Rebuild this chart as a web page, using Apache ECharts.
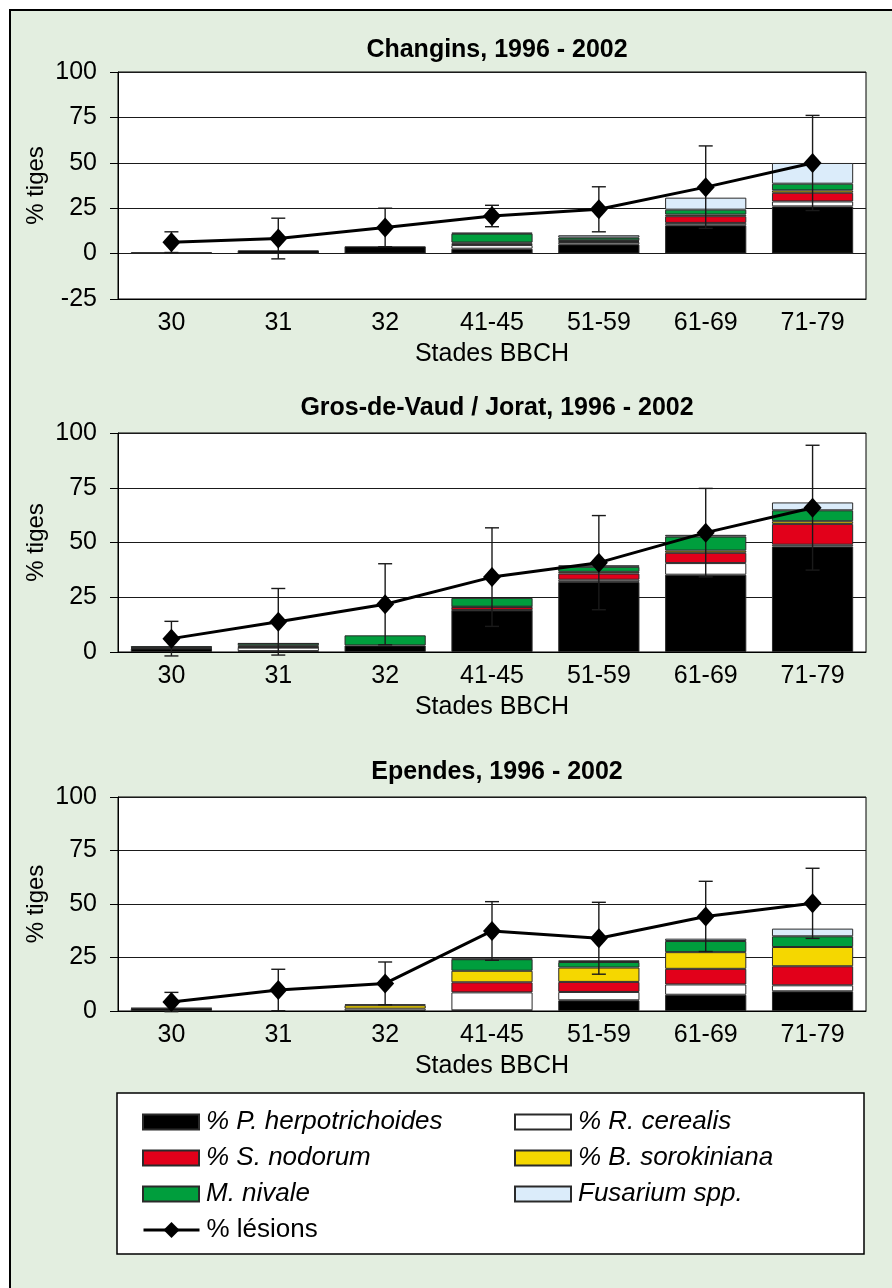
<!DOCTYPE html>
<html>
<head>
<meta charset="utf-8">
<script src="https://cdn.jsdelivr.net/npm/echarts@6/dist/echarts.min.js"></script>
<style>
html,body{margin:0;padding:0;background:#fff;}
#main{width:892px;height:1288px;}
</style>
</head>
<body>
<div id="main"></div>
<script>
// ---- Data ----
const categories = ['30', '31', '32', '41-45', '51-59', '61-69', '71-79'];
const titles = ['Changins, 1996 - 2002', 'Gros-de-Vaud / Jorat, 1996 - 2002', 'Ependes, 1996 - 2002'];
const seriesNames = ['% P. herpotrichoides', '% R. cerealis', '% S. nodorum', '% B. sorokiniana', 'M. nivale', 'Fusarium spp.'];
const lineName = '% lésions';

// Changins
const changinsHerpo = [0.8, 1.8, 4.0, 2.7, 5.1, 15.6, 26.0];
const changinsRCer  = [0, 0, 0, 2.0, 1.3, 1.3, 2.7];
const changinsSNod  = [0, 0, 0, 0.8, 0.5, 3.7, 4.8];
const changinsBSor  = [0, 0, 0, 0.6, 0.4, 0.9, 1.3];
const changinsMNiv  = [0, 0, 0, 4.9, 1.5, 2.7, 3.7];
const changinsFus   = [0, 0, 0, 0.5, 1.3, 6.6, 11.4];
const changinsLesions = [6.3, 8.3, 14.4, 20.7, 24.4, 36.6, 49.9];
const changinsErr     = [5.7, 11.2, 10.6, 5.9, 12.4, 22.7, 26.2];

// Gros-de-Vaud / Jorat
const gdvHerpo = [1.6, 0.4, 3.0, 19.0, 32.0, 35.3, 48.2];
const gdvRCer  = [0.2, 1.6, 0, 0.2, 1.0, 5.3, 0.8];
const gdvSNod  = [0.2, 0.2, 0, 1.3, 2.8, 4.7, 9.5];
const gdvBSor  = [0, 0.6, 0, 0.2, 0.8, 1.0, 1.2];
const gdvMNiv  = [0.7, 1.0, 4.6, 4.0, 2.3, 6.4, 5.0];
const gdvFus   = [0, 0.2, 0, 0, 0.7, 0.8, 3.6];
const gdvLesions = [6.1, 13.8, 21.8, 34.2, 40.8, 54.5, 65.9];
const gdvErr     = [7.9, 15.2, 18.5, 22.5, 21.5, 20.2, 28.5];

// Ependes
const ependesHerpo = [1.2, 0, 0, 0.3, 5.0, 7.6, 9.2];
const ependesRCer  = [0, 0, 1.1, 8.4, 3.9, 4.8, 2.8];
const ependesSNod  = [0, 0, 0, 4.7, 4.7, 7.3, 8.9];
const ependesBSor  = [0, 0, 1.6, 5.4, 6.7, 7.8, 9.0];
const ependesMNiv  = [0, 0, 0.4, 5.4, 2.6, 5.2, 5.0];
const ependesFus   = [0.2, 0, 0, 0.3, 0.8, 1.1, 3.6];
const ependesLesions = [4.2, 9.8, 12.9, 37.4, 34.0, 44.2, 50.3];
const ependesErr     = [4.5, 9.7, 10.0, 13.7, 16.8, 16.4, 16.4];

const yMins = [-25, 0, 0];
const yMax = 100;
const yInterval = 25;

// ---- Styling ----
const FONT = "'Liberation Sans', Arial, Helvetica, sans-serif";
const AXIS_FS = 25;
const colors = ['#000000', '#ffffff', '#e2001a', '#f5d700', '#009e3d', '#dbecfa'];
const BG = '#e3eee0';

const sites = [
  { bars: [changinsHerpo, changinsRCer, changinsSNod, changinsBSor, changinsMNiv, changinsFus], line: changinsLesions, err: changinsErr },
  { bars: [gdvHerpo, gdvRCer, gdvSNod, gdvBSor, gdvMNiv, gdvFus], line: gdvLesions, err: gdvErr },
  { bars: [ependesHerpo, ependesRCer, ependesSNod, ependesBSor, ependesMNiv, ependesFus], line: ependesLesions, err: ependesErr }
];

const gridBoxes = [
  { top: 72, height: 227 },
  { top: 433, height: 219 },
  { top: 797, height: 214 }
];
const titleTops = [33, 391, 755];

const grids = [], xAxes = [], yAxes = [], series = [], titleOpts = [];

sites.forEach((site, g) => {
  grids.push({
    left: 118, right: 26, top: gridBoxes[g].top, height: gridBoxes[g].height,
    show: true, backgroundColor: '#ffffff', borderColor: '#000', borderWidth: 1
  });
  xAxes.push({
    type: 'category', gridIndex: g, data: categories,
    axisLine: { show: true, onZero: false, lineStyle: { color: '#000', width: 1 } },
    axisTick: { show: false },
    axisLabel: { color: '#000', fontSize: AXIS_FS, fontFamily: FONT, margin: 12, interval: 0 },
    name: 'Stades BBCH', nameLocation: 'middle', nameGap: 43,
    nameTextStyle: { color: '#000', fontSize: AXIS_FS, fontFamily: FONT }
  });
  yAxes.push({
    type: 'value', gridIndex: g, min: yMins[g], max: yMax, interval: yInterval,
    axisLine: { show: true, lineStyle: { color: '#000', width: 1 } },
    axisTick: { show: true, length: 8, lineStyle: { color: '#000' } },
    axisLabel: { color: '#000', fontSize: AXIS_FS, fontFamily: FONT, margin: 21 },
    splitLine: { show: true, lineStyle: { color: '#1a1a1a', width: 1 } },
    name: '% tiges', nameLocation: 'middle', nameGap: 70, nameRotate: 90,
    nameMoveOverlap: false,
    nameTextStyle: { color: '#000', fontSize: 24, fontFamily: FONT }
  });
  titleOpts.push({
    text: titles[g], left: 492, top: titleTops[g], textAlign: 'center',
    textStyle: { color: '#000', fontSize: 25, fontWeight: 'bold', fontFamily: FONT }
  });
  site.bars.forEach((vals, k) => {
    series.push({
      name: seriesNames[k], type: 'bar', stack: 'site' + g,
      xAxisIndex: g, yAxisIndex: g,
      barCategoryGap: '24%',
      data: vals.map(v => (v === 0 ? null : v)),
      itemStyle: { color: colors[k], borderColor: '#2a2a2a', borderWidth: 1 },
      emphasis: { disabled: true },
      z: 2
    });
  });
  series.push({
    name: 'errbar' + g, type: 'custom', xAxisIndex: g, yAxisIndex: g,
    clip: false, z: 4, silent: true,
    data: site.line.map((m, i) => [i, m - site.err[i], m + site.err[i]]),
    encode: { x: 0, y: [1, 2] },
    renderItem: function (params, api) {
      const lo = api.coord([api.value(0), api.value(1)]);
      const hi = api.coord([api.value(0), api.value(2)]);
      const hw = 7;
      const st = { stroke: '#1a1a1a', lineWidth: 1.4 };
      return {
        type: 'group',
        children: [
          { type: 'line', shape: { x1: lo[0], y1: lo[1], x2: hi[0], y2: hi[1] }, style: st },
          { type: 'line', shape: { x1: hi[0] - hw, y1: hi[1], x2: hi[0] + hw, y2: hi[1] }, style: st },
          { type: 'line', shape: { x1: lo[0] - hw, y1: lo[1], x2: lo[0] + hw, y2: lo[1] }, style: st }
        ]
      };
    }
  });
  series.push({
    name: lineName, type: 'line', xAxisIndex: g, yAxisIndex: g,
    data: site.line,
    symbol: 'diamond', symbolSize: [18, 20],
    lineStyle: { color: '#000', width: 3 },
    itemStyle: { color: '#000' },
    emphasis: { disabled: true },
    z: 5
  });
});

const legendText = { color: '#000', fontSize: 26, fontFamily: FONT, lineHeight: 26, padding: [0, 0, 0, 2] };
const italic = { fontStyle: 'italic' };

const option = {
  backgroundColor: '#ffffff',
  animation: false,
  title: titleOpts,
  grid: grids,
  xAxis: xAxes,
  yAxis: yAxes,
  legend: [
    {
      orient: 'vertical', left: 137, top: 1104, itemWidth: 56, itemHeight: 15, itemGap: 10,
      textStyle: legendText, selectedMode: false,
      data: [
        { name: seriesNames[0], icon: 'rect', textStyle: italic },
        { name: seriesNames[2], icon: 'rect', textStyle: italic },
        { name: seriesNames[4], icon: 'rect', textStyle: italic }
      ]
    },
    {
      orient: 'vertical', left: 509, top: 1104, itemWidth: 56, itemHeight: 15, itemGap: 10,
      textStyle: legendText, selectedMode: false,
      data: [
        { name: seriesNames[1], icon: 'rect', textStyle: italic },
        { name: seriesNames[3], icon: 'rect', textStyle: italic },
        { name: seriesNames[5], icon: 'rect', textStyle: italic }
      ]
    },
    {
      orient: 'vertical', left: 137, top: 1212, itemWidth: 56, itemHeight: 20,
      textStyle: legendText, selectedMode: false,
      lineStyle: { width: 3, color: '#000' },
      data: [{ name: lineName }]
    }
  ],
  graphic: [
    {
      type: 'rect', z: -100, silent: true,
      shape: { x: 10, y: 10, width: 900, height: 1300 },
      style: { fill: BG, stroke: '#000', lineWidth: 2 }
    },
    {
      type: 'rect', z: -50, silent: true,
      shape: { x: 117, y: 1093, width: 747, height: 161 },
      style: { fill: '#fff', stroke: '#000', lineWidth: 1.5 }
    }
  ],
  series: series
};

const chart = echarts.init(document.getElementById('main'), null, { renderer: 'canvas' });
chart.setOption(option);
</script>
</body>
</html>
